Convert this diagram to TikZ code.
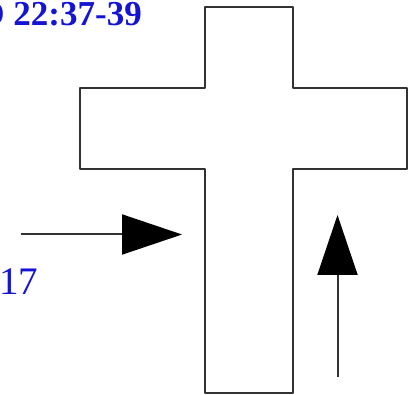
\documentclass[tikz,border=0pt]{standalone}
\usepackage{fontspec}
\setmainfont{Liberation Serif}
\usetikzlibrary{arrows.meta}
\definecolor{txtblue}{RGB}{20,20,210}
\definecolor{linegray}{RGB}{50,50,50}
\tikzset{
  outline/.style={draw=linegray, line width=2pt, line join=round},
  pointer/.style={draw=linegray, line width=2pt,
    -{Triangle[length=60pt,width=40pt,color=black,fill=black]}},
  reftext/.style={text=txtblue, inner sep=0pt}
}
\begin{document}
\begin{tikzpicture}[x=1pt,y=-1pt]
\clip (0,0) rectangle (413,395);
\fill[white] (0,0) rectangle (413,395);
% cross
\draw[outline] (204.5,7) -- (292.5,7) -- (292.5,88) -- (406.5,88) -- (406.5,169)
  -- (292.5,169) -- (292.5,393) -- (204.5,393) -- (204.5,169) -- (80,169)
  -- (80,88) -- (204.5,88) -- cycle;
% arrows
\coordinate (lstart) at (20.5,234.5);
\coordinate (ltip) at (182,234.5);
\coordinate (ustart) at (337.5,377);
\coordinate (utip) at (337.5,215);
\draw[pointer] (lstart) -- (ltip);
\draw[pointer] (ustart) -- (utip);
% texts
\node[reftext, font=\fontsize{35}{35}\selectfont\bfseries, anchor=base east] (ref) at (142,25.5) {D 22:37-39};
\node[reftext, font=\fontsize{39}{39}\selectfont, anchor=base west] (vnum) at (-1,295) {17};
\end{tikzpicture}
\end{document}
